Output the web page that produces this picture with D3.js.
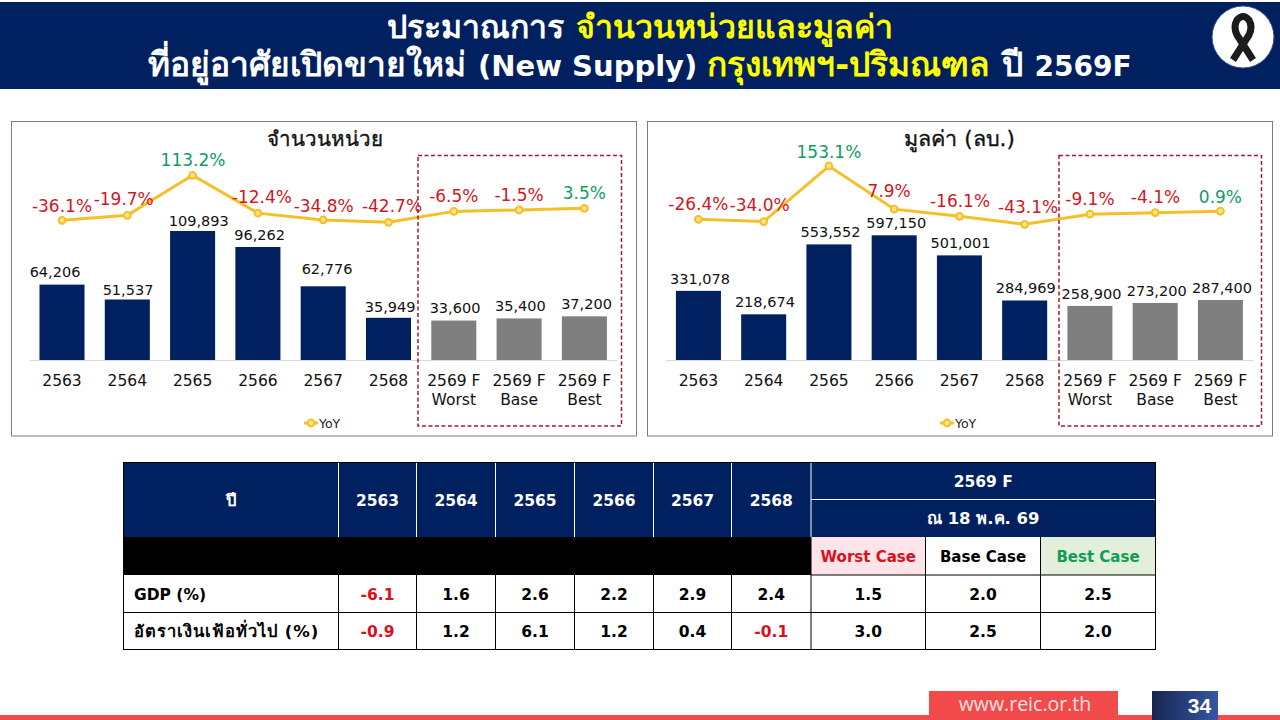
<!DOCTYPE html>
<html lang="th">
<head>
<meta charset="utf-8">
<title>New Supply 2569F</title>
<script src="https://cdn.jsdelivr.net/npm/d3@7"></script>
<style>
  html, body { margin: 0; padding: 0; background: #fff; }
  svg { display: block; }
  text { font-family: "DejaVu Sans", "Noto Sans", sans-serif; }
</style>
</head>
<body>
<svg id="slide" width="1280" height="720"></svg>
<script>
// Chart data
const categories = ["2563", "2564", "2565", "2566", "2567", "2568", "2569 F Worst", "2569 F Base", "2569 F Best"];
const forecastFlags = [false, false, false, false, false, false, true, true, true];
const unitValues = [64206, 51537, 109893, 96262, 62776, 35949, 33600, 35400, 37200];
const unitYoY = [-36.1, -19.7, 113.2, -12.4, -34.8, -42.7, -6.5, -1.5, 3.5];
const valueValues = [331078, 218674, 553552, 597150, 501001, 284969, 258900, 273200, 287400];
const valueYoY = [-26.4, -34.0, 153.1, 7.9, -16.1, -43.1, -9.1, -4.1, 0.9];

// Table data
const tableYears = ["2563", "2564", "2565", "2566", "2567", "2568"];
const tableCases = ["Worst Case", "Base Case", "Best Case"];
const gdpRow = ["-6.1", "1.6", "2.6", "2.2", "2.9", "2.4", "1.5", "2.0", "2.5"];
const inflationRow = ["-0.9", "1.2", "6.1", "1.2", "0.4", "-0.1", "3.0", "2.5", "2.0"];

// Hand placement of data labels, relative to their mark [dx, dy of label centre]
const unitBarLabelShift = [[-7, -12.6], [0.7, -9.2], [6.2, -10], [1.7, -12], [3.8, -17], [1.7, -11.1], [1.2, -12.6], [1.3, -12.1], [2.1, -12]];
const unitYoYLabelShift = [[0, -14.3], [-3.6, -16.3], [0.4, -15.3], [4, -16.6], [0.5, -14.3], [3.5, -16.3], [0, -15.3], [0, -14.7], [0, -15]];
const valueBarLabelShift = [[1.6, -11.8], [1.2, -12], [1.6, -12], [2, -11.9], [1, -12], [1, -12.1], [1.5, -11.9], [1.5, -11.9], [1.6, -11.6]];
const valueYoYLabelShift = [[0, -15], [-4, -16.7], [0, -14.3], [-5, -18.3], [0.6, -15.3], [3.5, -17.3], [0, -15.3], [0.3, -15.7], [0, -14.6]];

const NAVY = "#002060", GREY = "#7f7f7f", RED = "#d2161f", GREEN = "#0f9d63", GOLD = "#f5bf26";
const svg = d3.select("#slide");

// Header band
svg.append("rect").attr("x", 0).attr("y", 2).attr("width", 1280).attr("height", 87).attr("fill", NAVY);

function titleLine(y, parts) {
  const t = svg.append("text").attr("x", 640).attr("y", y).attr("text-anchor", "middle").attr("font-weight", 700);
  t.selectAll("tspan").data(parts).join("tspan")
    .attr("font-size", d => d[2]).attr("fill", d => d[1]).text(d => d[0]);
}
titleLine(38, [["ประมาณการ ", "#ffffff", 32], ["จำนวนหน่วยและมูลค่า", "#ffff00", 32]]);
titleLine(76, [
  ["ที่อยู่อาศัยเปิดขายใหม่ ", "#ffffff", 33.5], ["(New Supply) ", "#ffffff", 29],
  ["กรุงเทพฯ-ปริมณฑล ", "#ffff00", 33.5], ["ปี ", "#ffffff", 33.5], ["2569F", "#ffffff", 28]
]);

// Mourning ribbon badge
svg.append("circle").attr("cx", 1243).attr("cy", 37).attr("r", 31).attr("fill", "#fff").attr("stroke", "#33507f").attr("stroke-width", 1);
svg.append("path").attr("d", "M1233 60 L1249 35 Q1253 27 1249 20 Q1243 13 1237 20 Q1233 27 1237 35 L1253 60")
  .attr("fill", "none").attr("stroke", "#1c1c1c").attr("stroke-width", 7);

// One combined panel: bars, YoY line, labels, axis, legend, forecast frame
function panel(opt) {
  const g = svg.append("g");
  g.append("rect").attr("x", opt.frame[0]).attr("y", 121.5)
    .attr("width", opt.frame[1] - opt.frame[0]).attr("height", 314.5)
    .attr("fill", "#fff").attr("stroke", "#7f7f7f");

  const x = d3.scaleBand().domain(categories).range(opt.xRange).paddingInner(0.31).paddingOuter(0.155);
  const y = d3.scaleLinear().domain([0, d3.max(opt.values)]).range([360, opt.barTop]);
  const yLine = d3.scaleLinear().domain([d3.min(opt.yoy), d3.max(opt.yoy)]).range(opt.lineRange);
  const cx = i => x(categories[i]) + x.bandwidth() / 2;

  g.append("text").attr("x", opt.titleX).attr("y", 146).attr("text-anchor", "middle")
    .attr("font-size", opt.titleSize).attr("stroke", "#111").attr("stroke-width", 0.35)
    .attr("fill", "#111").text(opt.title);

  const axis = g.append("g").attr("transform", "translate(0,360)")
    .call(d3.axisBottom(x).tickSize(0).tickPadding(0));
  axis.select(".domain").attr("stroke", "#d9d9d9").attr("stroke-width", 1);
  axis.selectAll(".tick text").each(function (d) {
    const m = d.match(/^(2569 F) (.+)$/);
    const lines = m ? [m[1], m[2]] : [d];
    const t = d3.select(this).text(null).attr("y", 0).attr("dy", null)
      .attr("font-size", 15.5).attr("fill", "#111")
      .style("font-family", '"DejaVu Sans", sans-serif');
    lines.forEach((s, k) => t.append("tspan").attr("x", 0).attr("y", 25.5 + k * 19).text(s));
  });

  g.selectAll(".bar").data(opt.values).join("rect").attr("class", "bar")
    .attr("x", (d, i) => x(categories[i])).attr("width", x.bandwidth())
    .attr("y", d => y(d)).attr("height", d => 360 - y(d))
    .attr("fill", (d, i) => forecastFlags[i] ? GREY : NAVY);

  g.selectAll(".bar-label").data(opt.values).join("text").attr("class", "bar-label")
    .attr("x", (d, i) => cx(i) + opt.barShift[i][0])
    .attr("y", (d, i) => y(d) + opt.barShift[i][1] + 5)
    .attr("text-anchor", "middle").attr("font-size", 14.5).attr("fill", "#111")
    .text(d => d3.format(",")(d));

  const line = d3.line().x((d, i) => cx(i)).y(d => yLine(d));
  g.append("path").attr("d", line(opt.yoy)).attr("fill", "none")
    .attr("stroke", GOLD).attr("stroke-width", 3);
  g.selectAll(".pt").data(opt.yoy).join("circle").attr("class", "pt")
    .attr("cx", (d, i) => cx(i)).attr("cy", d => yLine(d)).attr("r", 3.4)
    .attr("fill", "#fde48a").attr("stroke", GOLD).attr("stroke-width", 2);

  g.selectAll(".yoy-label").data(opt.yoy).join("text").attr("class", "yoy-label")
    .attr("x", (d, i) => cx(i) + opt.yoyShift[i][0])
    .attr("y", (d, i) => yLine(d) + opt.yoyShift[i][1] + 6)
    .attr("text-anchor", "middle").attr("font-size", 17)
    .attr("fill", d => d > 0 && d !== 7.9 ? GREEN : RED)
    .text(d => d.toFixed(1) + "%");

  // Legend
  const lx = opt.legendX;
  g.append("line").attr("x1", lx - 7).attr("x2", lx + 7).attr("y1", 423).attr("y2", 423)
    .attr("stroke", GOLD).attr("stroke-width", 3);
  g.append("circle").attr("cx", lx).attr("cy", 423).attr("r", 3.4)
    .attr("fill", "#fde48a").attr("stroke", GOLD).attr("stroke-width", 2);
  g.append("text").attr("x", lx + 8).attr("y", 428).attr("font-size", 12.5).attr("fill", "#222").text("YoY");

  // Forecast frame
  g.append("rect").attr("x", opt.dash[0]).attr("y", 155.5)
    .attr("width", opt.dash[1] - opt.dash[0]).attr("height", 270.5)
    .attr("fill", "none").attr("stroke", "#a01c2c").attr("stroke-width", 1.5).attr("stroke-dasharray", "4 2.5");
}

panel({
  frame: [11.5, 636.5], xRange: [29.35, 617.05], barTop: 231, lineRange: [222.3, 175.3],
  values: unitValues, yoy: unitYoY, barShift: unitBarLabelShift, yoyShift: unitYoYLabelShift,
  title: "จำนวนหน่วย", titleSize: 20.5, titleX: 324.5, legendX: 311, dash: [418, 621.5]
});
panel({
  frame: [647.5, 1272.5], xRange: [665.8, 1253.05], barTop: 235.3, lineRange: [224.3, 166],
  values: valueValues, yoy: valueYoY, barShift: valueBarLabelShift, yoyShift: valueYoYLabelShift,
  title: "มูลค่า (ลบ.)", titleSize: 21.5, titleX: 959.6, legendX: 947, dash: [1059, 1261.5]
});

// Outlook table
const colEdges = [123.5, 338.5, 416.5, 495.5, 574.5, 653.5, 731.5, 811, 925.5, 1040.5, 1155.5];
const rowEdges = [462.5, 537, 575, 612.5, 649.5];
const splitY = 499.5;
const tbl = svg.append("g");

function cellText(x, y, label, color, anchor, size) {
  return tbl.append("text").attr("x", x).attr("y", y + 6)
    .attr("text-anchor", anchor || "middle").attr("font-size", size || 15.5).attr("font-weight", 700)
    .attr("fill", color).text(label);
}
const mid = i => (colEdges[i] + colEdges[i + 1]) / 2;
const L = colEdges[0], R = colEdges[10];

tbl.append("rect").attr("x", L).attr("y", rowEdges[0]).attr("width", R - L).attr("height", rowEdges[1] - rowEdges[0]).attr("fill", NAVY);
tbl.append("rect").attr("x", L).attr("y", rowEdges[1]).attr("width", colEdges[7] - L).attr("height", rowEdges[2] - rowEdges[1]).attr("fill", "#000");

const caseFills = ["#fde4e8", "#ffffff", "#e2efda"];
const caseInk = ["#dc0f1e", "#000000", "#0f9d58"];
tableCases.forEach((c, i) => {
  tbl.append("rect").attr("x", colEdges[7 + i]).attr("y", rowEdges[1])
    .attr("width", colEdges[8 + i] - colEdges[7 + i]).attr("height", rowEdges[2] - rowEdges[1]).attr("fill", caseFills[i]);
  cellText(mid(7 + i), (rowEdges[1] + rowEdges[2]) / 2, c, caseInk[i], "middle", 15);
});

// Grid rules
const rule = (x1, y1, x2, y2, c) => tbl.append("line").attr("x1", x1).attr("y1", y1).attr("x2", x2).attr("y2", y2).attr("stroke", c);
colEdges.slice(1, 8).forEach(x => rule(x, rowEdges[0], x, rowEdges[1], "#ffffff"));
rule(colEdges[7], splitY, R, splitY, "#ffffff");
colEdges.slice(1, 7).forEach(x => rule(x, rowEdges[2], x, rowEdges[4], "#000"));
colEdges.slice(7, 10).forEach(x => rule(x, rowEdges[1], x, rowEdges[4], "#000"));
rule(L, rowEdges[3], R, rowEdges[3], "#000");
rule(colEdges[7], rowEdges[2], R, rowEdges[2], "#000");
tbl.append("rect").attr("x", L).attr("y", rowEdges[0]).attr("width", R - L).attr("height", rowEdges[4] - rowEdges[0])
  .attr("fill", "none").attr("stroke", "#000");

// Header cells
const headY = (rowEdges[0] + rowEdges[1]) / 2;
cellText(mid(0), headY, "ปี", "#fff", "middle", 16.5);
tableYears.forEach((y, i) => cellText(mid(i + 1), headY, y, "#fff"));
const fcMid = (colEdges[7] + R) / 2;
cellText(fcMid, (rowEdges[0] + splitY) / 2, "2569 F", "#fff");
cellText(fcMid, (splitY + rowEdges[1]) / 2, "ณ 18 พ.ค. 69", "#fff", "middle", 16.5);

// Indicator rows
[["GDP (%)", gdpRow], ["อัตราเงินเฟ้อทั่วไป (%)", inflationRow]].forEach(([name, vals], r) => {
  const cy = (rowEdges[2 + r] + rowEdges[3 + r]) / 2;
  const label = cellText(134, cy, name, "#000", "start");
  if (r === 1) label.attr("font-size", 16.5).attr("letter-spacing", 1);
  vals.forEach((v, i) => cellText(mid(i + 1), cy, v, +v < 0 ? "#dc0f1e" : "#000"));
});

// Footer
svg.append("rect").attr("x", 0).attr("y", 715).attr("width", 1280).attr("height", 5).attr("fill", "#f24a4a");
svg.append("rect").attr("x", 929).attr("y", 691).attr("width", 189).attr("height", 29).attr("fill", "#f24a4a");
svg.append("text").attr("x", 1025).attr("y", 711).attr("text-anchor", "middle")
  .style("font-family", '"Open Sans", sans-serif').attr("font-size", 19.5).attr("fill", "#fde3e0").text("www.reic.or.th");
const grad = svg.append("defs").append("linearGradient").attr("id", "pageBox");
grad.append("stop").attr("offset", "0%").attr("stop-color", "#17264f");
grad.append("stop").attr("offset", "100%").attr("stop-color", "#3557a4");
svg.append("rect").attr("x", 1152).attr("y", 691).attr("width", 66).attr("height", 29).attr("fill", "url(#pageBox)");
svg.append("text").attr("x", 1199.5).attr("y", 713).attr("text-anchor", "middle")
  .style("font-family", '"Liberation Sans", sans-serif').attr("font-weight", 700).attr("font-size", 21).attr("fill", "#fff").text("34");
</script>
</body>
</html>
